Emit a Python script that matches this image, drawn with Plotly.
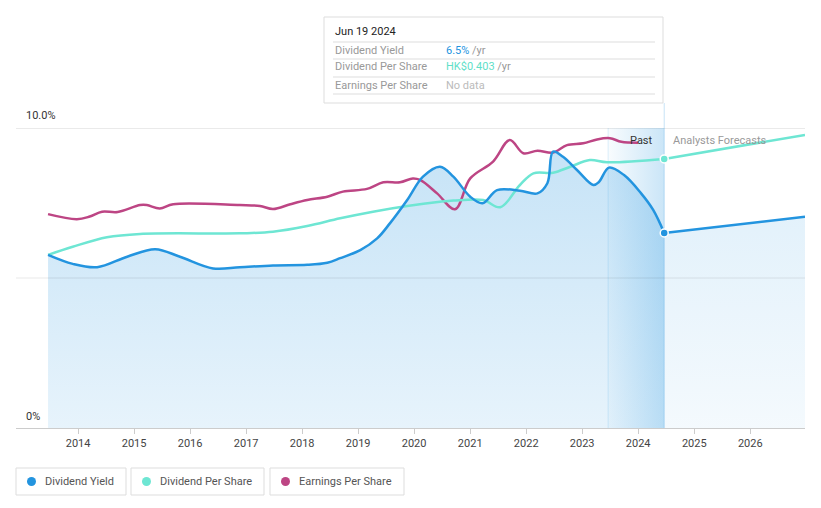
import plotly.graph_objects as go

# ---------------- data ----------------
yield_dates = ["2013-06-19", "2013-11-27", "2014-05-05", "2014-11-17", "2015-05-19", "2015-10-27",
               "2016-05-30", "2016-11-20", "2017-06-25", "2018-02-03", "2018-06-14", "2018-09-06",
               "2019-01-15", "2019-05-05", "2019-07-27", "2019-11-17", "2020-02-28", "2020-06-18",
               "2020-09-13", "2021-01-01", "2021-03-22", "2021-06-25", "2021-11-21", "2022-03-15",
               "2022-05-19", "2022-06-25", "2022-08-29", "2022-11-28", "2023-03-15", "2023-04-20",
               "2023-06-25", "2023-10-01", "2024-01-19", "2024-04-08", "2024-06-19"]
yield_vals = [5.77, 5.47, 5.36, 5.71, 5.96, 5.71,
              5.32, 5.36, 5.42, 5.44, 5.51, 5.66,
              5.93, 6.32, 6.82, 7.60, 8.38, 8.71,
              8.38, 7.71, 7.49, 7.93, 7.91, 7.82,
              8.16, 9.21, 9.04, 8.60, 8.10, 8.20,
              8.68, 8.43, 7.83, 7.27, 6.50]
yield_fc_dates = ["2024-06-19", "2026-12-24"]
yield_fc_vals = [6.50, 7.04]

dps_dates = ["2013-06-19", "2013-11-27", "2014-07-08", "2015-02-09", "2016-11-20", "2017-06-25",
             "2018-02-03", "2018-09-06", "2019-04-08", "2019-11-17", "2020-06-18", "2020-09-13",
             "2021-03-26", "2021-07-16", "2021-11-21", "2022-02-17", "2022-06-25", "2022-10-16",
             "2023-02-20", "2023-06-12", "2024-06-19"]
dps_vals = [5.77, 6.04, 6.36, 6.47, 6.49, 6.54,
            6.73, 6.99, 7.21, 7.40, 7.54, 7.58,
            7.60, 7.36, 8.10, 8.49, 8.51, 8.71,
            8.93, 8.86, 8.97]
dps_fc_dates = ["2024-06-19", "2026-12-24"]
dps_fc_vals = [8.97, 9.77]

eps_dates = ["2013-06-19", "2013-12-24", "2014-03-18", "2014-06-06", "2014-09-16", "2015-02-09",
             "2015-03-25", "2015-06-18", "2015-09-13", "2016-11-20", "2017-04-01", "2017-06-25",
             "2017-10-16", "2018-02-03", "2018-06-14", "2018-09-24", "2019-02-28", "2019-06-14",
             "2019-10-01", "2019-12-24", "2020-02-09", "2020-05-30", "2020-09-24", "2021-01-01",
             "2021-05-30", "2021-09-16", "2021-12-13", "2022-03-15", "2022-06-25", "2022-09-24",
             "2023-01-08", "2023-04-08", "2023-07-01", "2023-09-13", "2023-12-31"]
eps_vals = [7.13, 6.96, 7.05, 7.21, 7.20, 7.43,
            7.43, 7.32, 7.46, 7.43, 7.40, 7.30,
            7.46, 7.60, 7.71, 7.88, 7.97, 8.19,
            8.19, 8.32, 8.27, 7.82, 7.29, 8.32,
            8.88, 9.60, 9.16, 9.24, 9.18, 9.43,
            9.49, 9.62, 9.66, 9.54, 9.51]

tick_years = list(range(2014, 2027))
today = "2024-06-19"
past_start = "2023-06-19"
x_range = ["2012-11-22", "2026-12-24"]
y_max = 10

# ---------------- layout helpers ----------------
# The page body adds an 8px offset, so the figure is drawn 8px smaller and
# all positions below are given in window pixels and shifted by OFF.
OFF = 8
WIN_W, WIN_H = 821, 508
W, H = WIN_W - OFF, WIN_H - OFF
PL, PR, PT, PB = 16, 805, 128, 428          # plot area in window pixels
L, R, T, B = PL - OFF, WIN_W - PR, PT - OFF, WIN_H - PB


def px(x):
    return (x - PL) / (PR - PL)


def py(y):
    return (PB - y) / (PB - PT)


BLUE = "#2394df"
TEAL = "#6ee6d3"
PINK = "#bd4584"
FONT = "Roboto"

fig = go.Figure()

# past shading (horizontal gradient)
fig.add_trace(go.Scatter(
    x=[past_start, today, today, past_start, past_start],
    y=[0, 0, y_max, y_max, 0],
    fill="toself", mode="lines", line=dict(width=0),
    fillgradient=dict(type="horizontal",
                      colorscale=[[0, "rgba(35,148,223,0.03)"], [1, "rgba(35,148,223,0.24)"]]),
    hoverinfo="skip", showlegend=False))

# dividend yield fill (past) with vertical gradient
fig.add_trace(go.Scatter(
    x=yield_dates, y=yield_vals, mode="lines", line=dict(width=0, shape="spline"),
    fill="tozeroy",
    fillgradient=dict(type="vertical", start=0, stop=10,
                      colorscale=[[0, "rgba(35,148,223,0.11)"], [1, "rgba(35,148,223,0.27)"]]),
    hoverinfo="skip", showlegend=False))
# forecast fill
fig.add_trace(go.Scatter(
    x=yield_fc_dates, y=yield_fc_vals, mode="lines", line=dict(width=0),
    fill="tozeroy",
    fillgradient=dict(type="vertical", start=0, stop=10,
                      colorscale=[[0, "rgba(35,148,223,0.05)"], [1, "rgba(35,148,223,0.16)"]]),
    hoverinfo="skip", showlegend=False))

# lines
fig.add_trace(go.Scatter(x=eps_dates, y=eps_vals, mode="lines",
                         line=dict(color=PINK, width=2.5, shape="spline"), name="Earnings Per Share"))
fig.add_trace(go.Scatter(x=dps_dates, y=dps_vals, mode="lines",
                         line=dict(color=TEAL, width=2.5, shape="spline"), name="Dividend Per Share"))
fig.add_trace(go.Scatter(x=dps_fc_dates, y=dps_fc_vals, mode="lines",
                         line=dict(color=TEAL, width=2.5), showlegend=False))
fig.add_trace(go.Scatter(x=yield_dates, y=yield_vals, mode="lines",
                         line=dict(color=BLUE, width=2.5, shape="spline"), name="Dividend Yield"))
fig.add_trace(go.Scatter(x=yield_fc_dates, y=yield_fc_vals, mode="lines",
                         line=dict(color=BLUE, width=2.5), showlegend=False))
# today markers
fig.add_trace(go.Scatter(x=[dps_fc_dates[0]], y=[dps_fc_vals[0]], mode="markers",
                         marker=dict(color=TEAL, size=8, line=dict(color="white", width=1.5)),
                         showlegend=False))
fig.add_trace(go.Scatter(x=[yield_fc_dates[0]], y=[yield_fc_vals[0]], mode="markers",
                         marker=dict(color=BLUE, size=8, line=dict(color="white", width=1.5)),
                         showlegend=False))

shapes = []
# gridlines
shapes.append(dict(type="line", xref="paper", yref="y", x0=0, x1=1, y0=10, y1=10,
                   line=dict(color="#d5d5d5", width=1), layer="below"))
shapes.append(dict(type="line", xref="paper", yref="y", x0=0, x1=1, y0=5, y1=5,
                   line=dict(color="rgba(0,0,0,0.09)", width=1), layer="above"))
# past start edge
shapes.append(dict(type="line", xref="x", yref="y", x0=past_start, x1=past_start, y0=0, y1=y_max,
                   line=dict(color="rgba(35,148,223,0.15)", width=1), layer="below"))
# today line (extends up to tooltip)
shapes.append(dict(type="line", xref="x", yref="paper", x0=today, x1=today, y0=0, y1=py(103),
                   line=dict(color="rgba(35,148,223,0.25)", width=1), layer="below"))
# tooltip box
shapes.append(dict(type="rect", xref="paper", yref="paper", x0=px(324), x1=px(663), y0=py(103), y1=py(17),
                   line=dict(color="#dddddd", width=1), fillcolor="white", layer="above"))
for sy in [42, 59, 77, 94]:
    shapes.append(dict(type="line", xref="paper", yref="paper", x0=px(333), x1=px(655), y0=py(sy), y1=py(sy),
                       line=dict(color="#dddddd", width=1), layer="above"))
# legend boxes
legend_items = [("Dividend Yield", BLUE, 16, 126), ("Dividend Per Share", TEAL, 131, 264),
                ("Earnings Per Share", PINK, 270, 404)]
annotations = []
for label, col, x0, x1 in legend_items:
    shapes.append(dict(type="rect", xref="paper", yref="paper", x0=px(x0), x1=px(x1), y0=py(495), y1=py(468),
                       line=dict(color="#dddddd", width=1), fillcolor="white"))
    shapes.append(dict(type="circle", xref="paper", yref="paper", x0=px(x0 + 11), x1=px(x0 + 20),
                       y0=py(486), y1=py(477), line=dict(color=col, width=0), fillcolor=col))
    annotations.append(dict(text=label, xref="paper", yref="paper", x=px(x0 + 27), y=py(481.5),
                            xanchor="left", yanchor="middle", showarrow=False,
                            font=dict(family=FONT, size=11, color="#555")))

# y labels
annotations.append(dict(text="10.0%", xref="paper", yref="paper", x=px(24), y=py(116), xanchor="left",
                        yanchor="middle", showarrow=False, font=dict(family=FONT, size=11, color="#333")))
annotations.append(dict(text="0%", xref="paper", yref="paper", x=px(24), y=py(416), xanchor="left",
                        yanchor="middle", showarrow=False, font=dict(family=FONT, size=11, color="#333")))
# past / forecasts
annotations.append(dict(text="Past", xref="paper", yref="paper", x=px(655), y=py(140), xanchor="right",
                        yanchor="middle", showarrow=False, font=dict(family=FONT, size=11, color="#333")))
annotations.append(dict(text="Analysts Forecasts", xref="paper", yref="paper", x=px(671), y=py(140),
                        xanchor="left", yanchor="middle", showarrow=False,
                        font=dict(family=FONT, size=11, color="#999")))
# tooltip texts
annotations.append(dict(text="Jun 19 2024", xref="paper", yref="paper", x=px(333), y=py(31), xanchor="left",
                        yanchor="middle", showarrow=False, font=dict(family=FONT, size=11, color="#222")))
rows = [("Dividend Yield", f"<span style='color:{BLUE}'>6.5%</span> /yr", 50),
        ("Dividend Per Share", f"<span style='color:#5fe0c8'>HK$0.403</span> /yr", 67),
        ("Earnings Per Share", "<span style='color:#bbbbbb'>No data</span>", 85)]
for lab, val, yy in rows:
    annotations.append(dict(text=lab, xref="paper", yref="paper", x=px(333), y=py(yy), xanchor="left",
                            yanchor="middle", showarrow=False, font=dict(family=FONT, size=11, color="#999")))
    annotations.append(dict(text=val, xref="paper", yref="paper", x=px(444), y=py(yy), xanchor="left",
                            yanchor="middle", showarrow=False, font=dict(family=FONT, size=11, color="#999")))

fig.update_layout(
    width=W, height=H, margin=dict(l=L, r=R, t=T, b=B),
    paper_bgcolor="white", plot_bgcolor="white", showlegend=False,
    shapes=shapes, annotations=annotations,
    xaxis=dict(type="date", range=x_range,
               tickvals=[f"{y}-01-01" for y in tick_years], ticktext=[str(y) for y in tick_years],
               ticks="outside", ticklen=5, tickcolor="#cccccc", showline=True, linecolor="#cccccc",
               showgrid=False, zeroline=False, tickfont=dict(family=FONT, size=11, color="#444")),
    yaxis=dict(range=[0, y_max], showgrid=False, zeroline=False, showticklabels=False, showline=False),
    font=dict(family=FONT),
)

fig.write_html("out.html")
